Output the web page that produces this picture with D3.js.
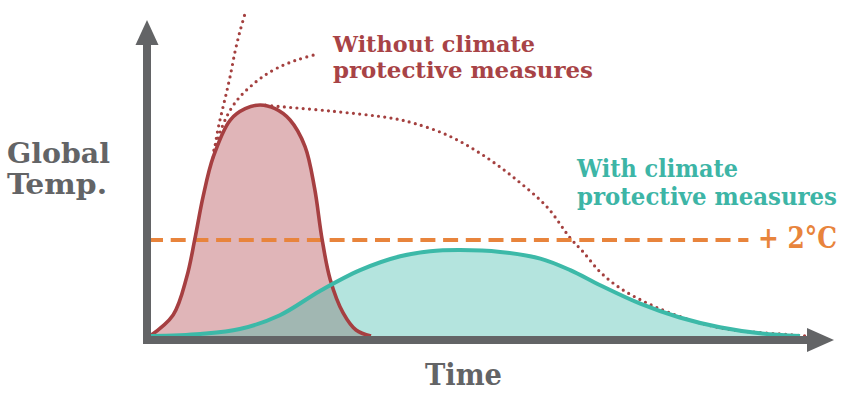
<!DOCTYPE html>
<html>
<head>
<meta charset="utf-8">
<script src="https://cdn.jsdelivr.net/npm/d3@7"></script>
<style>
  body { margin: 0; background: #fff; }
  text { font-family: "DejaVu Serif", serif; font-weight: bold; font-stretch: condensed; }
</style>
</head>
<body>
<div id="viz"></div>
<script>
// time and temperature are in arbitrary units (0-100)
var redTime  = [0, 3.4, 5.4, 6.6, 7.8, 9.3, 11.8, 14.0, 16.2, 18.4, 20.6, 22.8, 24.2, 25.3, 26.5, 28.4, 30.3, 32.5]
var redTemp  = [0, 9.1, 25.5, 42, 60.2, 77.5, 93.5, 98.4, 100, 98.4, 93.5, 82, 64, 42, 24.5, 10, 2.6, 0]

var tealTime = [0, 7.4, 13.2, 19.1, 25, 30.9, 36.8, 41.2, 45.6, 51.5, 57.4, 61.8, 66.2, 72.1, 77.9, 83.8, 89.7, 95.6]
var tealTemp = [0, 0.9, 3, 9, 19.5, 28.5, 34.5, 36.7, 37.2, 36.4, 33.5, 28.5, 22, 14, 8, 3.8, 1.2, 0]

// three dotted "without measures" projections
var steepTime = [9.3, 10.0, 10.6, 11.2, 11.8, 12.5, 13.2, 14]
var steepTemp = [77.5, 89.6, 97.4, 104.8, 112.6, 123, 131.6, 139.8]
var bendTime  = [9.4, 10.6, 11.8, 13.2, 14.7, 16.5, 18.7, 21.6, 24.7]
var bendTemp  = [80.5, 90.5, 97.8, 103.5, 107.8, 112.1, 116, 119.5, 122.1]
var flatTime  = [17, 18.1, 26.5, 35.3, 38.7, 43.7, 48.5, 53.4, 58.4, 61.8, 63.7, 66.2, 69.1, 72.8, 76.5, 80.9, 85.7, 90.7, 96.6]
var flatTemp  = [100, 99.6, 97.4, 94.4, 92.2, 87, 79.2, 68.8, 55.8, 42.4, 36.4, 27.7, 20.8, 14.7, 10, 5.6, 2.6, 1.3, 0]

var limitTemp = 41.6
var limitTime = [0, 88]

var width = 843,
    height = 399;

var svg = d3.select("#viz")
  .append("svg")
    .attr("width", width)
    .attr("height", height);

var x = d3.scaleLinear().domain([0, 100]).range([150, 830]);
var y = d3.scaleLinear().domain([0, 100]).range([336, 105]);

function pts(ts, vs) {
    return ts.map(function(t, i) { return [t, vs[i]] })
}

var area = d3.area()
    .x(function(d) { return x(d[0]) })
    .y0(y(0))
    .y1(function(d) { return y(d[1]) })
    .curve(d3.curveCatmullRom.alpha(0.5));

var line = d3.line()
    .x(function(d) { return x(d[0]) })
    .y(function(d) { return y(d[1]) })
    .curve(d3.curveCatmullRom.alpha(0.5));

var red = pts(redTime, redTemp),
    teal = pts(tealTime, tealTemp);

// fills
svg.append("path")
    .attr("d", area(red))
    .style("fill", "#e0b5b8");

svg.append("path")
    .attr("d", area(teal))
    .style("fill", "#3dbaa9")
    .style("fill-opacity", 0.39);

// dotted projections
[pts(steepTime, steepTemp), pts(bendTime, bendTemp), pts(flatTime, flatTemp)].forEach(function(p) {
    svg.append("path")
        .attr("d", line(p))
        .style("fill", "none")
        .style("stroke", "#a4403f")
        .style("stroke-width", 3.2)
        .style("stroke-linecap", "round")
        .style("stroke-dasharray", "0 6.3");
});

// +2 degree threshold
svg.append("line")
    .attr("x1", x(limitTime[0]) - 2)
    .attr("x2", x(limitTime[1]))
    .attr("y1", y(limitTemp))
    .attr("y2", y(limitTemp))
    .style("stroke", "#e8843c")
    .style("stroke-width", 4)
    .style("stroke-dasharray", "15 7.7");

// curve outlines
svg.append("path")
    .attr("d", line(red))
    .style("fill", "none")
    .style("stroke", "#a63f41")
    .style("stroke-width", 3.6);

svg.append("path")
    .attr("d", line(teal))
    .style("fill", "none")
    .style("stroke", "#3cb9a8")
    .style("stroke-width", 4);

// axes with arrow heads
var ax = x(0) - 3, ay = y(0) + 4;
var grey = "#636466";

svg.append("line")
    .attr("x1", ax).attr("x2", ax)
    .attr("y1", ay + 4).attr("y2", 44)
    .style("stroke", grey).style("stroke-width", 8);
svg.append("path")
    .attr("d", "M" + ax + ",20L" + (ax - 11.5) + ",45L" + (ax + 11.5) + ",45Z")
    .style("fill", grey);

svg.append("line")
    .attr("x1", ax - 4).attr("x2", 808)
    .attr("y1", ay).attr("y2", ay)
    .style("stroke", grey).style("stroke-width", 8);
svg.append("path")
    .attr("d", "M834," + ay + "L807," + (ay - 12) + "L807," + (ay + 12) + "Z")
    .style("fill", grey);

// labels
function label(txt, px, py, size, len, color) {
    svg.append("text")
        .attr("x", px)
        .attr("y", py)
        .attr("textLength", len)
        .attr("lengthAdjust", "spacingAndGlyphs")
        .style("font-size", size + "px")
        .style("fill", color)
        .text(txt);
}

label("Global", 7, 163, 28, 103, grey);
label("Temp.", 7, 194, 28, 100, grey);
label("Time", 425, 385, 30, 77, grey);

label("Without climate", 333, 52, 23, 202, "#a84346");
label("protective measures", 333, 78, 23, 260, "#a84346");

label("With climate", 577, 177, 24, 161, "#3db5a6");
label("protective measures", 577, 205, 24, 260, "#3db5a6");

label("+ 2°C", 758, 248, 29, 79, "#e8843c");
</script>
</body>
</html>
